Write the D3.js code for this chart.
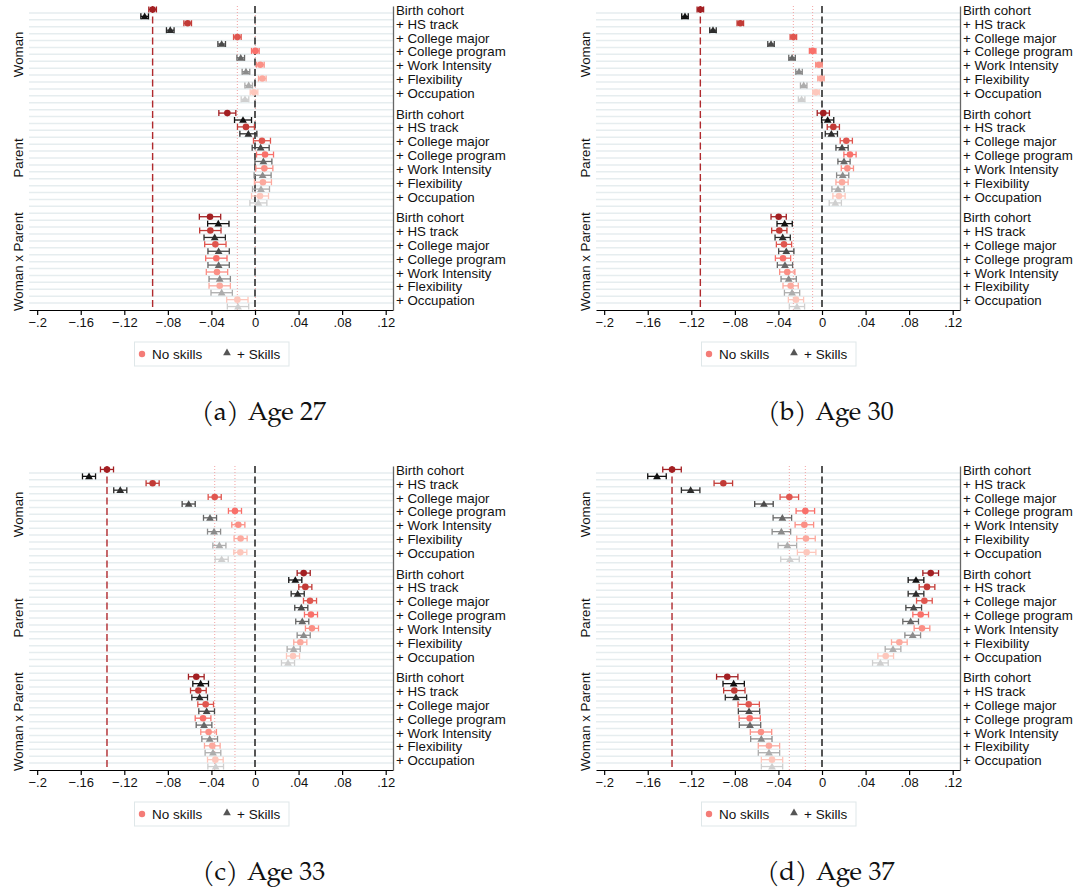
<!DOCTYPE html>
<html>
<head>
<meta charset="utf-8">
<script src="https://cdn.jsdelivr.net/npm/d3@7"></script>
<style>
  body { margin: 0; background: #fff; }
  svg { display: block; }
  text { font-family: "Liberation Sans", Arial, sans-serif; }
  text.caption { font-family: "TeX Gyre Pagella", Palatino, "Palatino Linotype", "DejaVu Serif", serif; }
</style>
</head>
<body>
<svg id="chart" width="1082" height="895"></svg>
<script>
// ----- DATA -----

var specs = ["Birth cohort", "+ HS track", "+ College major", "+ College program",
             "+ Work Intensity", "+ Flexibility", "+ Occupation"];
var groups = ["Woman", "Parent", "Woman x Parent"];
var captionTags = ["(a)", "(b)", "(c)", "(d)"];
var captions = ["Age 27", "Age 30", "Age 33", "Age 37"];
var tickValues = [-0.2, -0.16, -0.12, -0.08, -0.04, 0, 0.04, 0.08, 0.12];
var tickLabels = ["\u2212.2", "\u2212.16", "\u2212.12", "\u2212.08", "\u2212.04", "0", ".04", ".08", ".12"];
var legendLabels = ["No skills", "+ Skills"];

// estimates: one row per group (Woman, Parent, Woman x Parent), one value per spec
var age27NoSkills = [
  [-0.0940, -0.0618, -0.0162, 0.0003, 0.0049, 0.0067, -0.0009],
  [-0.0254, -0.0083, 0.0064, 0.0092, 0.0086, 0.0073, 0.0046],
  [-0.0413, -0.0410, -0.0364, -0.0355, -0.0349, -0.0324, -0.0162]
];
var age27Skills = [
  [-0.1013, -0.0778, -0.0306, -0.0131, -0.0083, -0.0058, -0.0092],
  [-0.0110, -0.0061, 0.0052, 0.0077, 0.0070, 0.0055, 0.0031],
  [-0.0337, -0.0370, -0.0334, -0.0334, -0.0324, -0.0306, -0.0156]
];
var age27Ci = [0.0035, 0.0078, 0.0098];

var age30NoSkills = [
  [-0.1117, -0.0750, -0.0263, -0.0086, -0.0028, -0.0009, -0.0055],
  [0.0012, 0.0104, 0.0223, 0.0257, 0.0233, 0.0184, 0.0156],
  [-0.0398, -0.0392, -0.0349, -0.0358, -0.0319, -0.0288, -0.0239]
];
var age30Skills = [
  [-0.1258, -0.1001, -0.0468, -0.0275, -0.0211, -0.0168, -0.0187],
  [0.0052, 0.0086, 0.0184, 0.0202, 0.0190, 0.0147, 0.0122],
  [-0.0343, -0.0361, -0.0328, -0.0340, -0.0306, -0.0275, -0.0230]
];
var age30Ci = [0.0030, 0.0056, 0.0070];

var age33NoSkills = [
  [-0.1359, -0.0940, -0.0370, -0.0184, -0.0153, -0.0132, -0.0135],
  [0.0447, 0.0462, 0.0505, 0.0514, 0.0523, 0.0416, 0.0349],
  [-0.0539, -0.0520, -0.0453, -0.0477, -0.0426, -0.0392, -0.0364]
];
var age33Skills = [
  [-0.1524, -0.1237, -0.0609, -0.0413, -0.0376, -0.0327, -0.0306],
  [0.0370, 0.0392, 0.0425, 0.0434, 0.0447, 0.0355, 0.0303],
  [-0.0499, -0.0508, -0.0444, -0.0468, -0.0416, -0.0386, -0.0361]
];
var age33Ci = [0.0060, 0.0060, 0.0072];

var age37NoSkills = [
  [-0.1377, -0.0906, -0.0300, -0.0153, -0.0162, -0.0147, -0.0141],
  [0.0998, 0.0964, 0.0940, 0.0906, 0.0918, 0.0710, 0.0585],
  [-0.0870, -0.0805, -0.0673, -0.0664, -0.0560, -0.0487, -0.0459]
];
var age37Skills = [
  [-0.1515, -0.1206, -0.0533, -0.0364, -0.0373, -0.0318, -0.0294],
  [0.0863, 0.0863, 0.0842, 0.0814, 0.0833, 0.0652, 0.0536],
  [-0.0811, -0.0790, -0.0670, -0.0661, -0.0557, -0.0487, -0.0459]
];
var age37Ci = [0.0085, 0.0072, 0.0098];

// ----- STYLE -----

var circleColors = ["#a31f22", "#c23a36", "#e0564f", "#f9706a", "#fb8f85", "#fca99e", "#fdc7bc"];
var triangleColors = ["#111111", "#2c2c2c", "#494949", "#676767", "#8b8b8b", "#adadad", "#cfcfcf"];

var panels = [
  { tag: captionTags[0], caption: captions[0], noSkills: age27NoSkills, skills: age27Skills, ci: age27Ci, dx: 0, dy: 0 },
  { tag: captionTags[1], caption: captions[1], noSkills: age30NoSkills, skills: age30Skills, ci: age30Ci, dx: 567, dy: 0 },
  { tag: captionTags[2], caption: captions[2], noSkills: age33NoSkills, skills: age33Skills, ci: age33Ci, dx: 0, dy: 460 },
  { tag: captionTags[3], caption: captions[3], noSkills: age37NoSkills, skills: age37Skills, ci: age37Ci, dx: 567, dy: 460 }
];

var svg = d3.select("#chart");

var x = d3.scaleLinear().domain([-0.2075, 0.1267]).range([29, 393]);
// 3 groups x 14 rows, one empty row between groups
var y = d3.scaleLinear().domain([-0.5, 43.5]).range([6, 310]);

function rowOf(g, s, k) { return g * 15 + s * 2 + k; }

var triangle = d3.symbol().type(d3.symbolTriangle).size(26);

panels.forEach(function(p) {
    var g = svg.append("g").attr("transform", "translate(" + p.dx + "," + p.dy + ")");

    // grid lines
    g.selectAll(".grid").data(d3.range(43)).enter().append("line")
        .attr("x1", x.range()[0]).attr("x2", x.range()[1])
        .attr("y1", function(d) { return y(d + 0.5); })
        .attr("y2", function(d) { return y(d + 0.5); })
        .attr("stroke", "#e6edef").attr("stroke-width", 1.5);

    // reference lines taken from the Woman estimates
    var woman = p.noSkills[0];
    [woman[2], woman[3]].forEach(function(v) {
        g.append("line")
            .attr("x1", x(v)).attr("x2", x(v)).attr("y1", y.range()[0]).attr("y2", y.range()[1])
            .attr("stroke", "#f3a3a3").attr("stroke-width", 1).attr("stroke-dasharray", "1,2");
    });
    g.append("line")
        .attr("x1", x(woman[0])).attr("x2", x(woman[0])).attr("y1", y.range()[0]).attr("y2", y.range()[1])
        .attr("stroke", "#b02a2e").attr("stroke-width", 1.4).attr("stroke-dasharray", "7,3.5");
    g.append("line")
        .attr("x1", x(0)).attr("x2", x(0)).attr("y1", y.range()[0]).attr("y2", y.range()[1])
        .attr("stroke", "#555").attr("stroke-width", 2).attr("stroke-dasharray", "7,3.5");

    // points with confidence intervals
    var pts = [];
    groups.forEach(function(name, gi) {
        specs.forEach(function(s, si) {
            pts.push({ v: p.noSkills[gi][si], ci: p.ci[gi], row: rowOf(gi, si, 0), color: circleColors[si], tri: false });
            pts.push({ v: p.skills[gi][si], ci: p.ci[gi], row: rowOf(gi, si, 1), color: triangleColors[si], tri: true });
        });
    });

    var pt = g.selectAll(".pt").data(pts).enter().append("g")
        .attr("transform", function(d) { return "translate(0," + y(d.row) + ")"; });
    pt.append("line")
        .attr("x1", function(d) { return x(d.v - d.ci); })
        .attr("x2", function(d) { return x(d.v + d.ci); })
        .attr("stroke", function(d) { return d.color; }).attr("stroke-width", 1.3);
    [-1, 1].forEach(function(side) {
        pt.append("line")
            .attr("x1", function(d) { return x(d.v + side * d.ci); })
            .attr("x2", function(d) { return x(d.v + side * d.ci); })
            .attr("y1", -3).attr("y2", 3)
            .attr("stroke", function(d) { return d.color; }).attr("stroke-width", 1.3);
    });
    pt.filter(function(d) { return !d.tri; }).append("circle")
        .attr("cx", function(d) { return x(d.v); }).attr("r", 3.3)
        .attr("fill", function(d) { return d.color; });
    pt.filter(function(d) { return d.tri; }).append("path")
        .attr("d", triangle)
        .attr("transform", function(d) { return "translate(" + x(d.v) + ",0.6)"; })
        .attr("fill", function(d) { return d.color; });

    // bottom axis
    var xAxis = g.append("g").attr("transform", "translate(0," + y.range()[1] + ")")
        .call(d3.axisBottom(x).tickValues(tickValues).tickSize(5).tickSizeOuter(0)
            .tickFormat(function(d, i) { return tickLabels[i]; }));
    xAxis.select(".domain").attr("stroke", "#000").attr("stroke-width", 1.2);
    xAxis.selectAll(".tick line").attr("stroke", "#000").attr("stroke-width", 1.2);
    xAxis.selectAll(".tick text").attr("font-size", 13).attr("fill", "#111");

    // right axis with spec labels
    var labelRows = [];
    groups.forEach(function(name, gi) {
        specs.forEach(function(s, si) { labelRows.push({ row: rowOf(gi, si, 0), label: s }); });
    });
    var yAxis = g.append("g").attr("transform", "translate(" + x.range()[1] + ",0)")
        .call(d3.axisRight(y).tickValues(labelRows.map(function(d) { return d.row; }))
            .tickSize(0).tickSizeOuter(0).tickPadding(3)
            .tickFormat(function(d, i) { return labelRows[i].label; }));
    yAxis.select(".domain").attr("stroke", "#666").attr("stroke-width", 1.3);
    yAxis.selectAll(".tick text").attr("font-size", 13.3).attr("fill", "#111").attr("dy", "0.38em");

    // group labels
    groups.forEach(function(name, gi) {
        var cy = (y(rowOf(gi, 0, 0)) + y(rowOf(gi, 6, 1))) / 2;
        g.append("text")
            .attr("transform", "translate(18," + cy + ") rotate(-90)")
            .attr("text-anchor", "middle").attr("dominant-baseline", "central")
            .attr("font-size", 13.3).attr("fill", "#111")
            .text(name);
    });

    // legend
    var lg = g.append("g");
    lg.append("rect").attr("x", 134.5).attr("y", 342).attr("width", 154.5).attr("height", 24)
        .attr("fill", "#fff").attr("stroke", "#dfe7e9").attr("stroke-width", 1);
    lg.append("circle").attr("cx", 142).attr("cy", 354).attr("r", 3.2).attr("fill", "#f47c77");
    lg.append("text").attr("x", 152).attr("y", 358.5).attr("font-size", 13.5).attr("fill", "#111")
        .text(legendLabels[0]);
    lg.append("path").attr("d", triangle).attr("transform", "translate(227,353)").attr("fill", "#555");
    lg.append("text").attr("x", 237).attr("y", 358.5).attr("font-size", 13.5).attr("fill", "#111")
        .text(legendLabels[1]);

    // caption
    var cap = g.append("text").attr("class", "caption")
        .attr("x", 264).attr("y", 420).attr("text-anchor", "middle")
        .attr("font-size", 26).attr("fill", "#111");
    cap.append("tspan").text(p.tag);
    cap.append("tspan").attr("dx", 9).text(p.caption);
});
</script>
</body>
</html>
